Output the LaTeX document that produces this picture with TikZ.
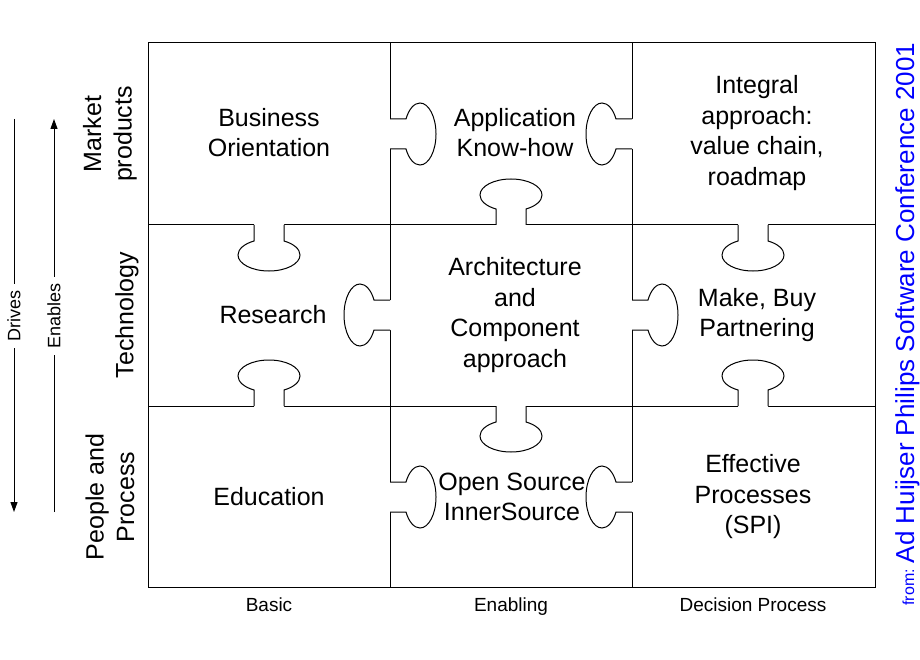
\documentclass[tikz,border=0pt]{standalone}
\usepackage{fontspec}
\setmainfont{Liberation Sans}
\usetikzlibrary{arrows.meta}
\definecolor{srcblue}{RGB}{0,0,255}
\newcommand\puzzletab[3]{%
  \begin{scope}[shift={(#1,#2)}, rotate=#3]
    \fill[white] (-15,-1.5) -- (-15,16) .. controls (-24.9,18.8) and (-31,24.2) .. (-31,30)
      .. controls (-31,38.8) and (-17.1,46) .. (0,46)
      .. controls (17.1,46) and (31,38.8) .. (31,30)
      .. controls (31,24.2) and (24.9,18.8) .. (15,16) -- (15,-1.5) -- cycle;
    \draw (-15,0) -- (-15,16) .. controls (-24.9,18.8) and (-31,24.2) .. (-31,30)
      .. controls (-31,38.8) and (-17.1,46) .. (0,46)
      .. controls (17.1,46) and (31,38.8) .. (31,30)
      .. controls (31,24.2) and (24.9,18.8) .. (15,16) -- (15,0);
  \end{scope}}
\begin{document}
\begin{tikzpicture}[x=1pt,y=-1pt,line width=1pt,
  cell/.style={align=center,font=\fontsize{25}{30.5}\selectfont,inner sep=0pt},
  rowlab/.style={align=center,font=\fontsize{25}{30.5}\selectfont,rotate=90,inner sep=0pt},
  collab/.style={font=\fontsize{19}{23}\selectfont,inner sep=0pt,anchor=base},
  side/.style={font=\fontsize{18}{22}\selectfont,rotate=90,inner sep=6pt},
  tip/.style={-{Triangle[length=10pt,width=7pt]}}]
\useasboundingbox (0,0) rectangle (920,660);
% grid
\draw (148,43) rectangle (875,587);
\draw (390,43) -- (390,587);
\draw (632,43) -- (632,587);
\draw (148,225) -- (875,225);
\draw (148,406) -- (875,406);
% tabs
\puzzletab{390}{134}{90}
\puzzletab{632}{134}{-90}
\puzzletab{390}{315}{-90}
\puzzletab{632}{315}{90}
\puzzletab{390}{497}{90}
\puzzletab{632}{497}{-90}
\puzzletab{269}{225}{0}
\puzzletab{511}{225}{180}
\puzzletab{753}{225}{0}
\puzzletab{269}{406}{180}
\puzzletab{511}{406}{0}
\puzzletab{753}{406}{180}
% cell texts
\node[cell] (bo) at (269,132.5) {Business\\Orientation};
\node[cell] (ak) at (515,132.5) {Application\\Know-how};
\node[cell] (ia) at (757,133) {Integral\\approach:\\value chain,\\roadmap};
\node[cell] (rs) at (273,315) {Research};
\node[cell] (ac) at (515,315) {Architecture\\and\\Component\\approach};
\node[cell] (mb) at (757,315) {Make, Buy\\Partnering};
\node[cell] (ed) at (269,497) {Education};
\node[cell] (os) at (512,497) {Open Source\\InnerSource};
\node[cell] (ep) at (753,497) {Effective\\Processes\\(SPI)};
% row labels
\node[rowlab] (mp) at (110,134) {Market\\products};
\node[rowlab] (tech) at (127,315) {Technology};
\node[rowlab] (pp) at (110,497) {People and\\Process};
% column labels
\node[collab] (basic) at (269,611) {Basic};
\node[collab] (enab) at (511,611) {Enabling};
\node[collab] (dec) at (753,611) {Decision Process};
% drives / enables
\coordinate (dtop) at (14,119);
\node[side] (drives) at (14,316) {Drives};
\coordinate (dbot) at (14,512);
\draw (dtop) -- (drives);
\draw[tip] (drives) -- (dbot);
\coordinate (etop) at (54,119);
\node[side] (enables) at (54,316) {Enables};
\coordinate (ebot) at (54,512);
\draw (ebot) -- (enables);
\draw[tip] (enables) -- (etop);
% source
\node[rotate=90,anchor=base west,inner sep=0pt,text=srcblue] (src) at (914,606)
  {{\fontsize{16}{20}\selectfont from: }{\fontsize{26}{30}\selectfont Ad Huijser Philips Software Conference 2001}};
\end{tikzpicture}
\end{document}
